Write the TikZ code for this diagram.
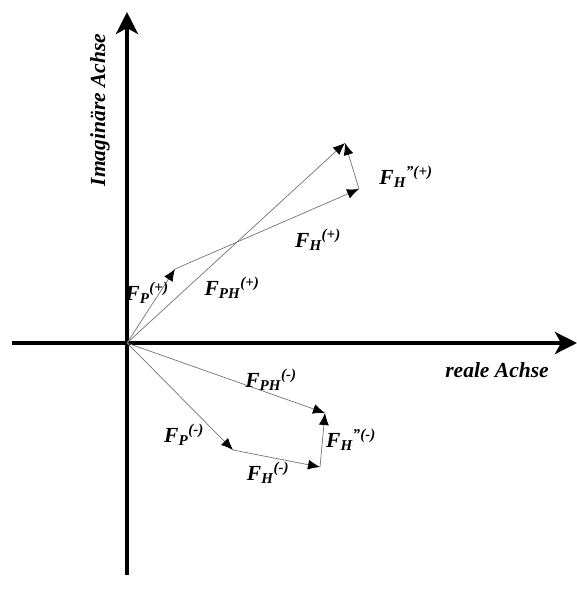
\documentclass[tikz,border=0pt]{standalone}
\usepackage{fontspec}
\setmainfont{Liberation Serif}
\usetikzlibrary{arrows.meta}

\begin{document}
\begin{tikzpicture}[x=1pt, y=-1pt,
  axis/.style={line width=4pt, -{Stealth[length=22pt,width=22pt,inset=6pt]}},
  vec/.style={draw=black!55, line width=0.7pt, -{Latex[length=12pt,width=10pt,color=black]}},
  every node/.style={font=\fontsize{21.5}{24}\selectfont\bfseries\itshape, inner sep=0pt},
]
\useasboundingbox (0,0) rectangle (577,603);

% axes
\coordinate (xl) at (12,343);
\coordinate (xr) at (577,343);
\coordinate (yb) at (127,575);
\coordinate (yt) at (127,12);
\draw[axis] (xl) -- (xr);
\draw[axis] (yb) -- (yt);
\node[rotate=90] (ylab) at (100,110) {Imaginäre Achse};
\node (xlab) at (497,370) {reale Achse};

% vector points
\coordinate (O) at (127,343);
\coordinate (Pp) at (175,269);
\coordinate (Hp) at (359,189);
\coordinate (PHp) at (345,143);
\coordinate (Pm) at (233,450);
\coordinate (Hm) at (320,467);
\coordinate (PHm) at (325,413);

% positive side
\draw[vec] (O) -- (Pp);
\draw[vec] (Pp) -- (Hp);
\draw[vec] (O) -- (PHp);
\draw[vec] (Hp) -- (PHp);
\node (lPp) at (147,293) {F\textsubscript{P}\textsuperscript{(+)}};
\node (lPHp) at (232,288) {F\textsubscript{PH}\textsuperscript{(+)}};
\node (lHp) at (318,240) {F\textsubscript{H}\textsuperscript{(+)}};
\node (lHHp) at (406,177) {F\textsubscript{H}\textsuperscript{"(+)}};

% negative side
\draw[vec] (O) -- (Pm);
\draw[vec] (Pm) -- (Hm);
\draw[vec] (O) -- (PHm);
\draw[vec] (Hm) -- (PHm);
\node (lPm) at (184,435) {F\textsubscript{P}\textsuperscript{(-)}};
\node (lPHm) at (271,380) {F\textsubscript{PH}\textsuperscript{(-)}};
\node (lHm) at (268,473) {F\textsubscript{H}\textsuperscript{(-)}};
\node (lHHm) at (351,440) {F\textsubscript{H}\textsuperscript{"(-)}};
\end{tikzpicture}
\end{document}
